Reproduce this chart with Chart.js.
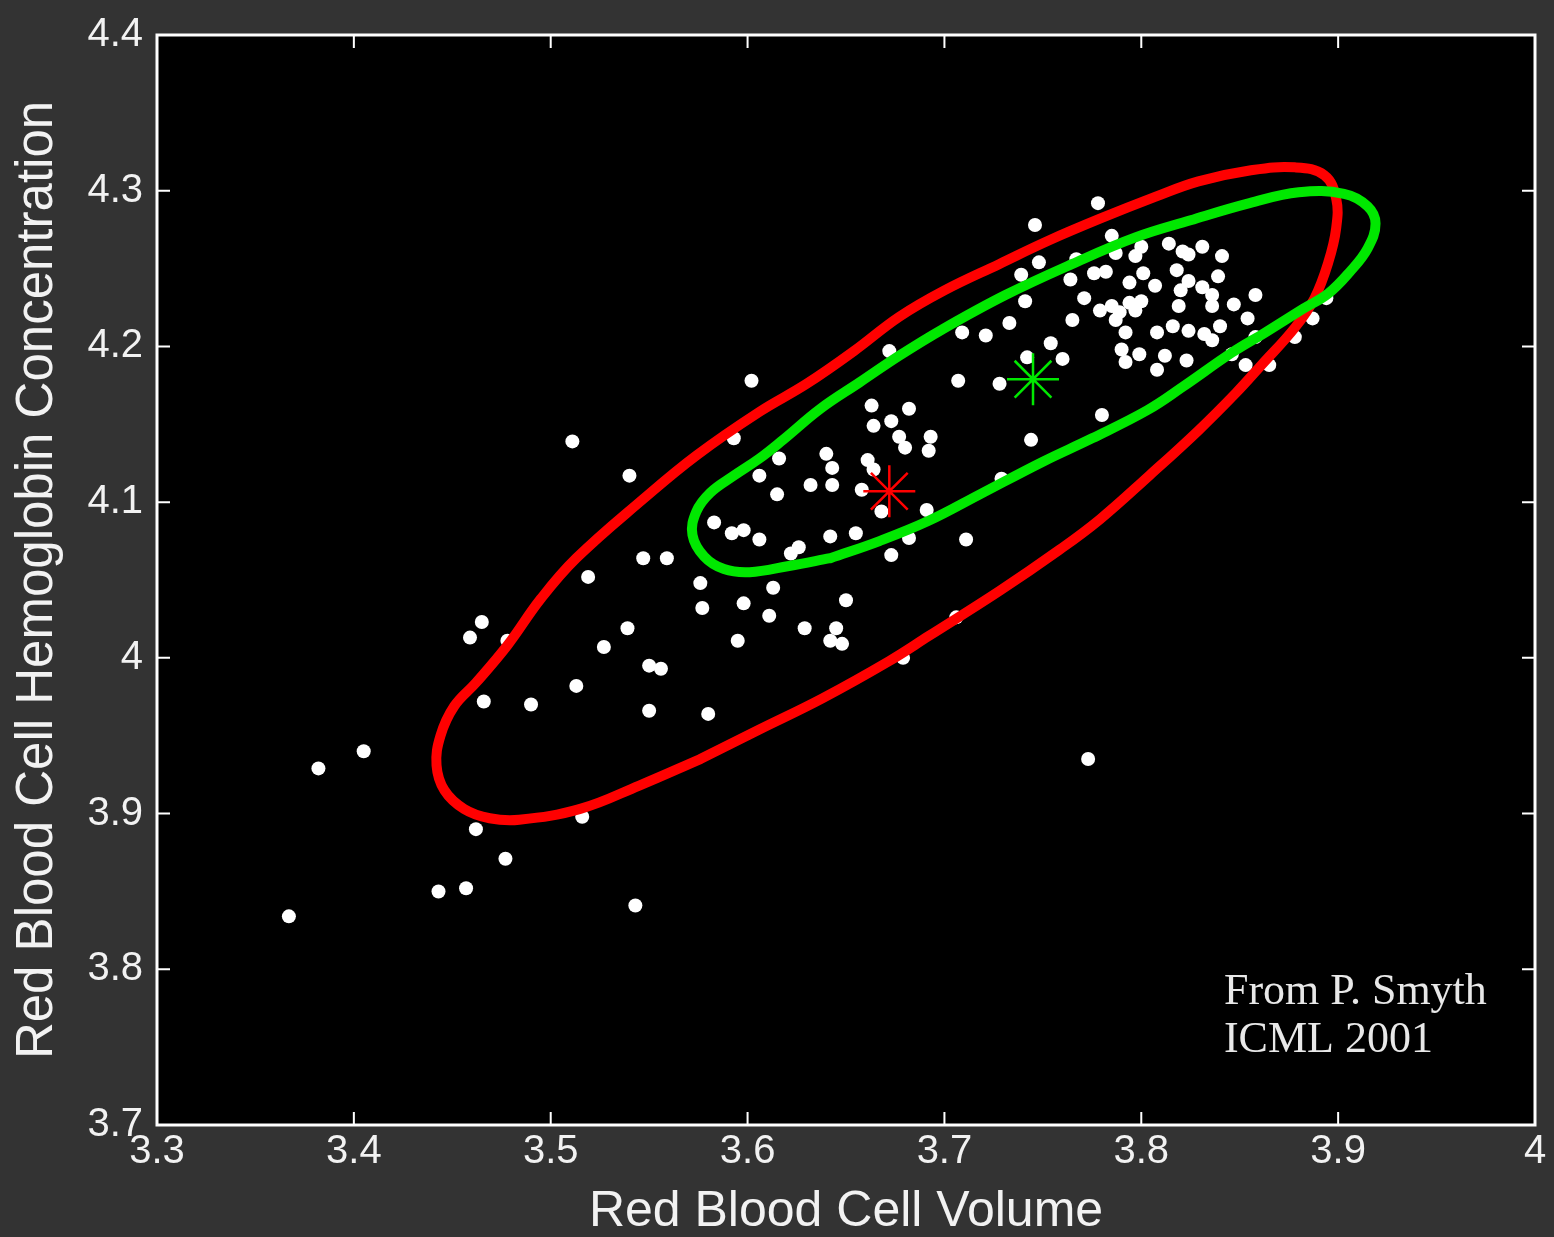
<!DOCTYPE html>
<html>
<head>
<meta charset="utf-8">
<script src="https://cdn.jsdelivr.net/npm/chart.js@4/dist/chart.umd.min.js"></script>
<style>
  body { margin: 0; background: #333333; }
  canvas { display: block; }
</style>
</head>
<body>
<canvas id="chart" width="1554" height="1237"></canvas>
<script>
// tick values and labels
const xTicks = [3.3, 3.4, 3.5, 3.6, 3.7, 3.8, 3.9, 4.0];
const xTickLabels = ['3.3', '3.4', '3.5', '3.6', '3.7', '3.8', '3.9', '4'];
const yTicks = [3.7, 3.8, 3.9, 4.0, 4.1, 4.2, 4.3, 4.4];
const yTickLabels = ['3.7', '3.8', '3.9', '4', '4.1', '4.2', '4.3', '4.4'];

// data points (volume, hemoglobin concentration)
const cellVolume = [
  3.367, 3.382, 3.405, 3.443, 3.457, 3.462, 3.477, 3.516, 3.543, 3.459,
  3.465, 3.478, 3.466, 3.490, 3.513, 3.519, 3.527, 3.539, 3.550, 3.556,
  3.550, 3.580, 3.547, 3.559, 3.511, 3.540, 3.602, 3.593, 3.576, 3.577,
  3.598, 3.595, 3.611, 3.613, 3.629, 3.645, 3.642, 3.648, 3.650, 3.679,
  3.706, 3.773, 3.663, 3.682, 3.664, 3.673, 3.677, 3.680, 3.693, 3.692,
  3.640, 3.643, 3.661, 3.664, 3.616, 3.606, 3.632, 3.643, 3.658, 3.615,
  3.668, 3.691, 3.583, 3.592, 3.598, 3.606, 3.642, 3.655, 3.682, 3.711,
  3.673, 3.626, 3.622, 3.672, 3.746, 3.748, 3.739, 3.741, 3.733, 3.709,
  3.721, 3.754, 3.760, 3.742, 3.707, 3.728, 3.780, 3.744, 3.729, 3.765,
  3.771, 3.764, 3.767, 3.776, 3.785, 3.794, 3.779, 3.789, 3.792, 3.790,
  3.792, 3.797, 3.778, 3.787, 3.782, 3.800, 3.801, 3.807, 3.814, 3.821,
  3.824, 3.831, 3.841, 3.818, 3.824, 3.839, 3.785, 3.794, 3.800, 3.820,
  3.819, 3.831, 3.836, 3.836, 3.847, 3.858, 3.787, 3.797, 3.808, 3.816,
  3.824, 3.832, 3.840, 3.836, 3.854, 3.799, 3.812, 3.823, 3.808, 3.858,
  3.878, 3.887, 3.894, 3.846, 3.853, 3.865
];
const hemoglobin = [
  3.834, 3.929, 3.940, 3.850, 3.852, 3.890, 3.871, 3.898, 3.841, 4.013,
  4.023, 4.011, 3.972, 3.970, 3.982, 4.052, 4.007, 4.019, 3.995, 3.993,
  3.966, 3.964, 4.064, 4.064, 4.139, 4.117, 4.178, 4.141, 4.048, 4.032,
  4.035, 4.011, 4.027, 4.045, 4.019, 4.019, 4.011, 4.009, 4.037, 4.000,
  4.026, 3.935, 4.162, 4.160, 4.149, 4.152, 4.142, 4.135, 4.142, 4.133,
  4.131, 4.122, 4.127, 4.121, 4.128, 4.117, 4.111, 4.111, 4.108, 4.105,
  4.094, 4.095, 4.087, 4.080, 4.082, 4.076, 4.078, 4.080, 4.077, 4.076,
  4.066, 4.071, 4.067, 4.197, 4.278, 4.254, 4.246, 4.229, 4.215, 4.209,
  4.207, 4.202, 4.192, 4.193, 4.178, 4.176, 4.156, 4.140, 4.115, 4.217,
  4.231, 4.243, 4.256, 4.247, 4.271, 4.241, 4.223, 4.222, 4.209, 4.198,
  4.190, 4.258, 4.292, 4.260, 4.248, 4.264, 4.247, 4.239, 4.266, 4.261,
  4.259, 4.264, 4.258, 4.249, 4.242, 4.245, 4.226, 4.228, 4.229, 4.236,
  4.226, 4.238, 4.233, 4.226, 4.227, 4.233, 4.217, 4.223, 4.209, 4.213,
  4.210, 4.208, 4.213, 4.204, 4.218, 4.195, 4.194, 4.191, 4.185, 4.206,
  4.206, 4.218, 4.231, 4.195, 4.188, 4.188
];

// outline of the red ellipse (starts on the lower side)
const redX = [
  3.576, 3.545, 3.515, 3.484, 3.469, 3.456, 3.446, 3.442, 3.444, 3.451,
  3.462, 3.478, 3.495, 3.513, 3.547, 3.574, 3.606, 3.630, 3.654, 3.677,
  3.700, 3.728, 3.753, 3.779, 3.807, 3.829, 3.855, 3.878, 3.893, 3.899,
  3.899, 3.895, 3.888, 3.878, 3.861, 3.848, 3.829, 3.804, 3.779, 3.758,
  3.728, 3.692, 3.672, 3.638, 3.606, 3.576
];
const redY = [
  3.935, 3.918, 3.903, 3.896, 3.897, 3.903, 3.915, 3.931, 3.950, 3.969,
  3.984, 4.008, 4.038, 4.064, 4.102, 4.130, 4.158, 4.176, 4.197, 4.219,
  4.236, 4.253, 4.268, 4.282, 4.296, 4.306, 4.313, 4.315, 4.310, 4.295,
  4.276, 4.254, 4.231, 4.212, 4.188, 4.170, 4.146, 4.117, 4.089, 4.069,
  4.043, 4.014, 3.998, 3.974, 3.954, 3.935
];

// outline of the green ellipse (starts on the lower side)
const greenX = [
  3.642, 3.621, 3.601, 3.588, 3.578, 3.572, 3.574, 3.581, 3.593, 3.606,
  3.618, 3.637, 3.657, 3.677, 3.699, 3.731, 3.765, 3.797, 3.825, 3.855,
  3.880, 3.903, 3.915, 3.919, 3.915, 3.906, 3.895, 3.882, 3.863, 3.846,
  3.821, 3.803, 3.775, 3.750, 3.718, 3.692, 3.667, 3.642
];
const greenY = [
  4.064, 4.059, 4.055, 4.057, 4.065, 4.079, 4.094, 4.106, 4.117, 4.128,
  4.140, 4.160, 4.177, 4.194, 4.211, 4.233, 4.253, 4.270, 4.281, 4.292,
  4.299, 4.298, 4.290, 4.279, 4.263, 4.248, 4.234, 4.224, 4.209, 4.196,
  4.174, 4.159, 4.141, 4.126, 4.105, 4.088, 4.075, 4.064
];

// cluster centres
const redCentre = [3.672, 4.107];
const greenCentre = [3.745, 4.179];

// note in the corner
const noteLines = ['From P. Smyth', 'ICML 2001'];
const notePos = [3.842, 3.778, 3.747];

function toXY(xs, ys) {
  const out = [];
  for (let i = 0; i < xs.length; i++) {
    out.push({x: xs[i], y: ys[i]});
  }
  return out;
}

const framePlugin = {
  id: 'frame',
  beforeDraw(chart) {
    const ctx = chart.ctx;
    const a = chart.chartArea;
    ctx.save();
    ctx.fillStyle = '#333333';
    ctx.fillRect(0, 0, chart.width, chart.height);
    ctx.fillStyle = '#000000';
    ctx.fillRect(a.left, a.top, a.right - a.left, a.bottom - a.top);
    ctx.restore();
  },
  afterDatasetsDraw(chart) {
    const ctx = chart.ctx;
    const a = chart.chartArea;
    const xs = chart.scales.x;
    const ys = chart.scales.y;
    const len = 13;
    ctx.save();
    ctx.strokeStyle = '#ffffff';
    ctx.lineWidth = 2;
    ctx.beginPath();
    xTicks.forEach(v => {
      const px = xs.getPixelForValue(v);
      ctx.moveTo(px, a.bottom); ctx.lineTo(px, a.bottom - len);
      ctx.moveTo(px, a.top); ctx.lineTo(px, a.top + len);
    });
    yTicks.forEach(v => {
      const py = ys.getPixelForValue(v);
      ctx.moveTo(a.left, py); ctx.lineTo(a.left + len, py);
      ctx.moveTo(a.right, py); ctx.lineTo(a.right - len, py);
    });
    ctx.stroke();
    ctx.lineWidth = 3;
    ctx.strokeRect(a.left, a.top, a.right - a.left, a.bottom - a.top);

    // note text
    ctx.fillStyle = '#e8e8e8';
    ctx.font = '44px "Liberation Serif", "Times New Roman", serif';
    ctx.textAlign = 'left';
    ctx.textBaseline = 'alphabetic';
    const nx = xs.getPixelForValue(notePos[0]);
    ctx.fillText(noteLines[0], nx, ys.getPixelForValue(notePos[1]));
    ctx.fillText(noteLines[1], nx, ys.getPixelForValue(notePos[2]));
    ctx.restore();
  }
};

const labelColor = '#f2f2f2';
const sansFont = '"Liberation Sans", Arial, sans-serif';

new Chart(document.getElementById('chart'), {
  type: 'scatter',
  data: {
    datasets: [
      {
        label: 'red centre',
        data: [{x: redCentre[0], y: redCentre[1]}],
        pointStyle: 'star',
        pointRadius: 26,
        borderColor: '#ff0000',
        borderWidth: 2.5,
        backgroundColor: '#ff0000',
        order: 0
      },
      {
        label: 'green centre',
        data: [{x: greenCentre[0], y: greenCentre[1]}],
        pointStyle: 'star',
        pointRadius: 26,
        borderColor: '#00e800',
        borderWidth: 2.5,
        backgroundColor: '#00e800',
        order: 0
      },
      {
        label: 'green ellipse',
        data: toXY(greenX, greenY),
        showLine: true,
        pointRadius: 0,
        borderColor: '#00e800',
        borderWidth: 10,
        tension: 0.4,
        borderCapStyle: 'round',
        borderJoinStyle: 'round',
        order: 1
      },
      {
        label: 'red ellipse',
        data: toXY(redX, redY),
        showLine: true,
        pointRadius: 0,
        borderColor: '#ff0000',
        borderWidth: 10,
        tension: 0.4,
        borderCapStyle: 'round',
        borderJoinStyle: 'round',
        order: 2
      },
      {
        label: 'cells',
        data: toXY(cellVolume, hemoglobin),
        pointStyle: 'circle',
        pointRadius: 7,
        backgroundColor: '#ffffff',
        borderWidth: 0,
        order: 3
      }
    ]
  },
  options: {
    responsive: false,
    animation: false,
    events: [],
    layout: { autoPadding: false, padding: { top: 35, right: 19, left: 0, bottom: 0 } },
    plugins: {
      legend: { display: false },
      tooltip: { enabled: false }
    },
    scales: {
      x: {
        type: 'linear',
        min: 3.3,
        max: 4.0,
        afterBuildTicks: s => { s.ticks = xTicks.map(v => ({value: v})); },
        afterFit: s => { s.height = 112; s.paddingLeft = 0; s.paddingRight = 0; },
        grid: { display: false, drawTicks: false },
        border: { display: false },
        ticks: {
          padding: 3,
          color: labelColor,
          font: { family: sansFont, size: 40 },
          maxRotation: 0,
          callback: (v, i) => xTickLabels[i]
        },
        title: {
          display: true,
          text: 'Red Blood Cell Volume',
          color: labelColor,
          font: { family: sansFont, size: 50, lineHeight: 1 },
          padding: { top: 0, bottom: 0 }
        }
      },
      y: {
        type: 'linear',
        min: 3.7,
        max: 4.4,
        afterBuildTicks: s => { s.ticks = yTicks.map(v => ({value: v})); },
        afterFit: s => { s.width = 157; s.paddingTop = 0; s.paddingBottom = 0; },
        grid: { display: false, drawTicks: false },
        border: { display: false },
        ticks: {
          padding: 14,
          color: labelColor,
          font: { family: sansFont, size: 40 },
          callback: (v, i) => yTickLabels[i]
        },
        title: {
          display: true,
          text: 'Red Blood Cell Hemoglobin Concentration',
          color: labelColor,
          font: { family: sansFont, size: 51, lineHeight: 1 },
          padding: { top: 12, bottom: 0 }
        }
      }
    }
  },
  plugins: [framePlugin]
});
</script>
</body>
</html>
